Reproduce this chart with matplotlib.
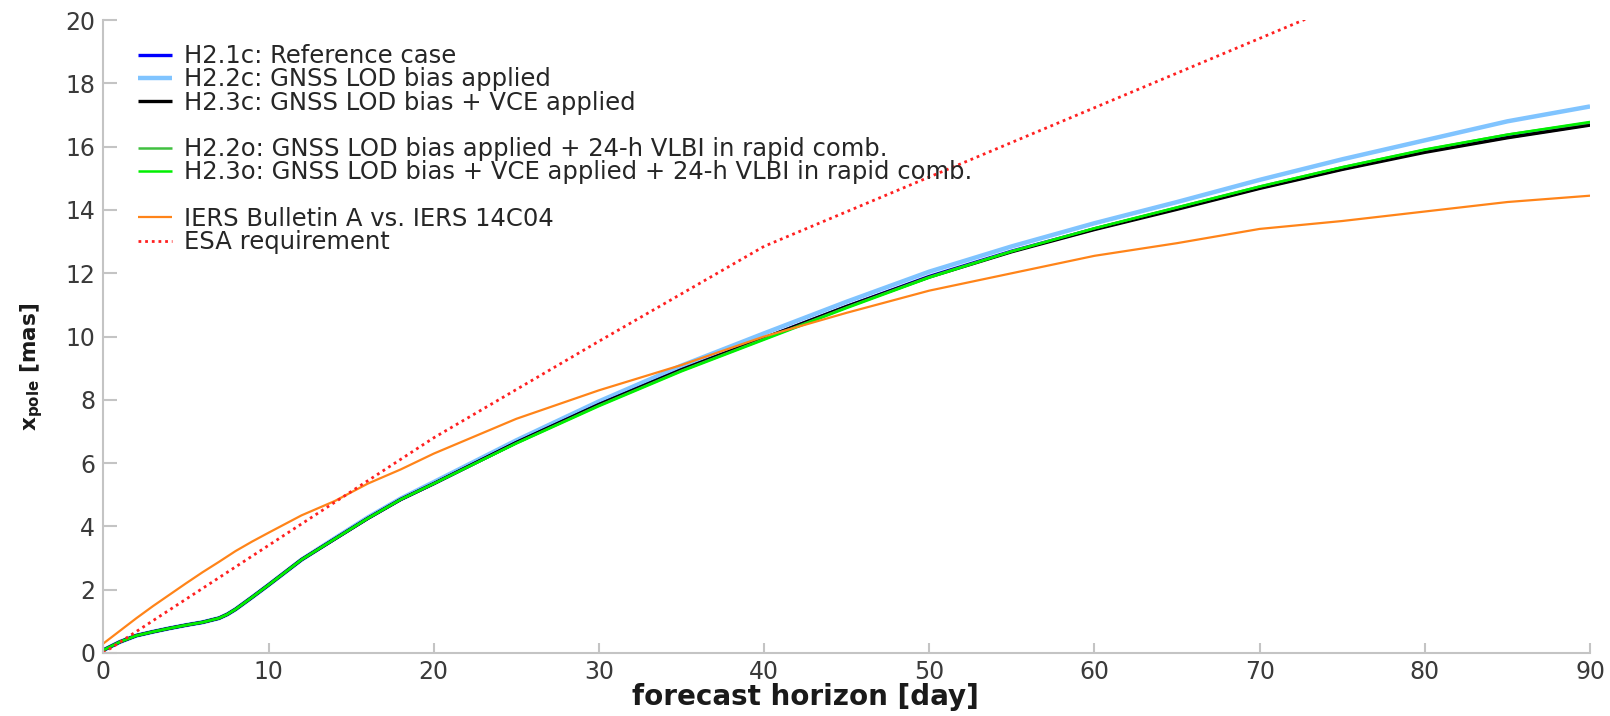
import matplotlib

matplotlib.use("Agg")
import matplotlib.pyplot as plt
from matplotlib.lines import Line2D

plt.rcParams["font.family"] = ["DejaVu Sans"]
plt.rcParams["mathtext.fontset"] = "dejavusans"

# forecast horizon [day]
days = [0, 1, 2, 3, 4, 5, 6, 7, 7.5, 8, 9, 10, 12, 14, 16, 18, 20, 25, 30, 35,
        40, 45, 50, 55, 60, 65, 70, 75, 80, 85, 90]

# x-pole prediction error [mas]
h21c = [0.09, 0.35, 0.55, 0.67, 0.78, 0.88, 0.97, 1.10, 1.22, 1.38, 1.76, 2.15,
        2.95, 3.60, 4.25, 4.85, 5.35, 6.65, 7.85, 8.95, 9.95, 10.95, 11.90,
        12.70, 13.40, 14.05, 14.70, 15.30, 15.85, 16.30, 16.70]
h22c = [0.09, 0.35, 0.55, 0.67, 0.78, 0.88, 0.97, 1.10, 1.22, 1.38, 1.76, 2.15,
        2.95, 3.62, 4.28, 4.88, 5.40, 6.72, 7.95, 9.08, 10.10, 11.10, 12.05,
        12.85, 13.58, 14.25, 14.95, 15.60, 16.20, 16.80, 17.27]
h23c = [0.09, 0.35, 0.55, 0.67, 0.78, 0.88, 0.97, 1.10, 1.22, 1.38, 1.76, 2.15,
        2.95, 3.60, 4.25, 4.85, 5.35, 6.65, 7.85, 8.95, 9.95, 10.95, 11.88,
        12.68, 13.38, 14.02, 14.68, 15.28, 15.82, 16.28, 16.68]
h22o = [0.09, 0.35, 0.55, 0.67, 0.78, 0.88, 0.97, 1.10, 1.22, 1.38, 1.76, 2.15,
        2.95, 3.60, 4.25, 4.85, 5.35, 6.63, 7.82, 8.92, 9.92, 10.92, 11.88,
        12.70, 13.42, 14.08, 14.74, 15.35, 15.90, 16.38, 16.76]
h23o = [0.09, 0.35, 0.55, 0.67, 0.78, 0.88, 0.97, 1.10, 1.22, 1.38, 1.76, 2.15,
        2.95, 3.60, 4.25, 4.85, 5.35, 6.62, 7.80, 8.90, 9.90, 10.90, 11.86,
        12.69, 13.42, 14.08, 14.74, 15.35, 15.91, 16.38, 16.78]
bulletin_a = [0.30, 0.70, 1.10, 1.48, 1.84, 2.20, 2.55, 2.88, 3.05, 3.22, 3.52,
              3.80, 4.35, 4.80, 5.35, 5.80, 6.30, 7.40, 8.30, 9.10, 10.00, 10.75,
              11.45, 12.00, 12.55, 12.95, 13.40, 13.65, 13.95, 14.25, 14.45]

esa_days = [0, 10, 20, 30, 40, 90]
esa_req = [0.0, 3.4, 6.8, 9.85, 12.85, 23.8]

series = [
    ("H2.2c: GNSS LOD bias applied", h22c, "#80c4ff", 3.2),
    ("H2.1c: Reference case", h21c, "#0000ff", 2.4),
    ("H2.3c: GNSS LOD bias + VCE applied", h23c, "#000000", 2.4),
    ("H2.2o: GNSS LOD bias applied + 24-h VLBI in rapid comb.", h22o, "#40c040", 1.8),
    ("H2.3o: GNSS LOD bias + VCE applied + 24-h VLBI in rapid comb.", h23o, "#00f000", 1.8),
    ("IERS Bulletin A vs. IERS 14C04", bulletin_a, "#ff8419", 1.6),
]

fig = plt.figure(figsize=(16.1, 7.16), dpi=100)
ax = fig.add_axes([0.0642, 0.088, 0.9234, 0.884])

lines = {}
for label, vals, color, lw in series:
    (ln,) = ax.plot(days, vals, color=color, lw=lw, solid_capstyle="butt")
    lines[label] = ln
(esa_line,) = ax.plot(esa_days, esa_req, color="#ff2020", lw=2.0, ls=(0, (1, 1.4)))

ax.set_xlim(0, 90)
ax.set_ylim(0, 20)
ax.set_xticks(range(0, 91, 10))
ax.set_yticks(range(0, 21, 2))
for side in ("top", "right"):
    ax.spines[side].set_visible(False)
for side in ("left", "bottom"):
    ax.spines[side].set_color("#c4c4c4")
    ax.spines[side].set_linewidth(1.5)
ax.tick_params(axis="x", direction="in", length=7, width=1.5, color="#c4c4c4",
               labelsize=17, labelcolor="#3a3a3a", pad=5)
ax.tick_params(axis="y", direction="in", length=10, width=1.5, color="#c4c4c4",
               labelsize=17, labelcolor="#3a3a3a", pad=6)

ax.set_xlabel("forecast horizon [day]", fontsize=20, fontweight="bold", color="#1a1a1a")
ax.xaxis.set_label_coords(0.472, -0.048)
ax.set_ylabel(r"$\mathbf{x_{pole}}$ [mas]", fontsize=15.5, fontweight="bold", color="#1a1a1a")
ax.yaxis.set_label_coords(-0.039, 0.452)

blank = Line2D([], [], color="none")
order = [
    ("H2.1c: Reference case", lines["H2.1c: Reference case"]),
    ("H2.2c: GNSS LOD bias applied", lines["H2.2c: GNSS LOD bias applied"]),
    ("H2.3c: GNSS LOD bias + VCE applied", lines["H2.3c: GNSS LOD bias + VCE applied"]),
    (" ", blank),
    ("H2.2o: GNSS LOD bias applied + 24-h VLBI in rapid comb.",
     lines["H2.2o: GNSS LOD bias applied + 24-h VLBI in rapid comb."]),
    ("H2.3o: GNSS LOD bias + VCE applied + 24-h VLBI in rapid comb.",
     lines["H2.3o: GNSS LOD bias + VCE applied + 24-h VLBI in rapid comb."]),
    (" ", blank),
    ("IERS Bulletin A vs. IERS 14C04", lines["IERS Bulletin A vs. IERS 14C04"]),
    ("ESA requirement", esa_line),
]
leg = ax.legend([h for _, h in order], [l for l, _ in order], loc="upper left",
                bbox_to_anchor=(0.0235, 0.962), frameon=False, fontsize=17.5,
                handlelength=1.4, handletextpad=0.5, labelspacing=-0.03,
                borderaxespad=0.0, borderpad=0.0)
for t in leg.get_texts():
    t.set_color("#262626")

fig.savefig("out.png", dpi=100)
